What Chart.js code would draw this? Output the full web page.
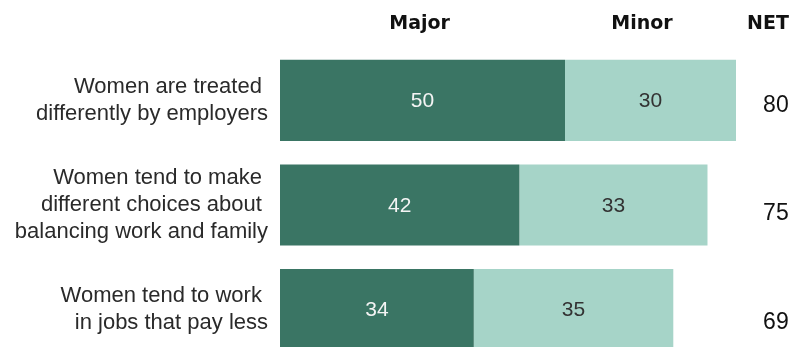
<!DOCTYPE html>
<html>
<head>
<meta charset="utf-8">
<script src="https://cdn.jsdelivr.net/npm/chart.js@4"></script>
<style>
  html, body { margin: 0; padding: 0; background: #fff; overflow: hidden; }
  canvas { display: block; }
</style>
</head>
<body>
<canvas id="reasonsChart" width="791" height="362"></canvas>
<script>
// categories (multi-line labels, trailing spaces as in the original)
const categories = [
    ["Women are treated ", "differently by employers"],
    ["Women tend to make ", "different choices about ", "balancing work and family"],
    ["Women tend to work ", "in jobs that pay less"]
];
const majorValues = [50, 42, 34];
const minorValues = [30, 33, 35];
const netValues = [80, 75, 69];
const headerLabels = ["Major", "Minor", "NET"];

const darkGreen = '#3a7564';
const lightGreen = '#a6d4c8';

// draws values inside bars, NET column and header row
const labelPlugin = {
    id: 'labelPlugin',
    afterDatasetsDraw(chart) {
        const ctx = chart.ctx;
        const x = chart.scales.x;
        ctx.save();
        ctx.textAlign = 'center';
        ctx.textBaseline = 'middle';
        ctx.font = '21px "Liberation Sans", Arial, sans-serif';
        chart.data.datasets.forEach((ds, i) => {
            const meta = chart.getDatasetMeta(i);
            meta.data.forEach((bar, j) => {
                const cx = (bar.x + bar.base) / 2;
                ctx.fillStyle = i === 0 ? '#f4f4f4' : '#333333';
                ctx.fillText(ds.data[j], cx, bar.y + 1);
            });
        });

        // NET column
        const meta0 = chart.getDatasetMeta(0);
        ctx.fillStyle = '#111111';
        ctx.font = '23px "Liberation Sans", Arial, sans-serif';
        netValues.forEach((v, j) => {
            ctx.fillText(v, x.getPixelForValue(87), meta0.data[j].y + 5 + j * 4);
        });

        // header row
        ctx.font = 'bold 19px "DejaVu Sans", sans-serif';
        ctx.textBaseline = 'alphabetic';
        ctx.fillText(headerLabels[0], x.getPixelForValue(24.5), 29);
        ctx.fillText(headerLabels[1], x.getPixelForValue(63.5), 29);
        ctx.fillText(headerLabels[2], x.getPixelForValue(85.6), 29);
        ctx.restore();
    }
};

const ctx = document.getElementById('reasonsChart').getContext('2d');
const myChart = new Chart(ctx, {
    type: 'bar',
    data: {
        labels: categories,
        datasets: [{
            label: 'Major',
            data: majorValues,
            backgroundColor: darkGreen,
            barPercentage: 0.775,
            categoryPercentage: 1
        }, {
            label: 'Minor',
            data: minorValues,
            backgroundColor: lightGreen,
            barPercentage: 0.775,
            categoryPercentage: 1
        }]
    },
    options: {
        indexAxis: 'y',
        responsive: false,
        animation: false,
        layout: { padding: { top: 48, right: 0, bottom: 0, left: 0 } },
        plugins: {
            legend: { display: false },
            tooltip: { enabled: false }
        },
        scales: {
            x: {
                stacked: true,
                display: false,
                min: 0,
                max: 89.65
            },
            y: {
                stacked: true,
                border: { display: false },
                grid: { display: false, drawTicks: false },
                afterFit: (scale) => {
                    scale.width = 280;
                    // keep multi-line labels from shrinking the plot area
                    scale.paddingTop = 0;
                    scale.paddingBottom = 0;
                },
                ticks: {
                    padding: 12,
                    color: '#2a2a2a',
                    font: { family: '"Liberation Sans", Arial, sans-serif', size: 22, lineHeight: 1.23 }
                }
            }
        }
    },
    plugins: [labelPlugin]
});
</script>
</body>
</html>
